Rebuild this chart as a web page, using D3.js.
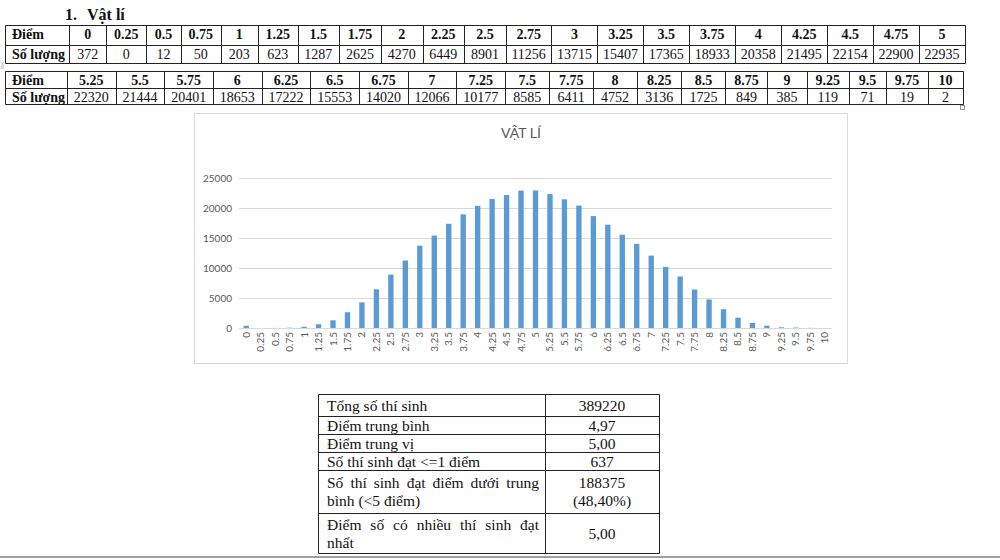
<!DOCTYPE html>
<html>
<head>
<meta charset="utf-8">
<script src="https://cdn.jsdelivr.net/npm/d3@7/dist/d3.min.js"></script>
<style>
  body { margin: 0; background: #fff; }
  svg { display: block; }
  .tbl text { font-family: "Liberation Serif", "Times New Roman", serif; fill: #111; }
  .chart text { font-family: Lato, "Open Sans", sans-serif; fill: #595959; }
</style>
</head>
<body>
<div id="container"></div>
<script>
// pho diem mon Vat li
const sectionTitle = "1.";
const sectionName = "Vật lí";
const rowLabels = ["Điểm", "Số lượng"];

const scores = ["0", "0.25", "0.5", "0.75", "1", "1.25", "1.5", "1.75", "2", "2.25", "2.5",
  "2.75", "3", "3.25", "3.5", "3.75", "4", "4.25", "4.5", "4.75", "5",
  "5.25", "5.5", "5.75", "6", "6.25", "6.5", "6.75", "7", "7.25", "7.5",
  "7.75", "8", "8.25", "8.5", "8.75", "9", "9.25", "9.5", "9.75", "10"];

const counts = [372, 0, 12, 50, 203, 623, 1287, 2625, 4270, 6449, 8901,
  11256, 13715, 15407, 17365, 18933, 20358, 21495, 22154, 22900, 22935,
  22320, 21444, 20401, 18653, 17222, 15553, 14020, 12066, 10177, 8585,
  6411, 4752, 3136, 1725, 849, 385, 119, 71, 19, 2];

const yTicks = [0, 5000, 10000, 15000, 20000, 25000];
const chartTitle = "VẬT LÍ";

const summaryLabels = ["Tổng số thí sinh", "Điểm trung bình", "Điểm trung vị",
  "Số thí sinh đạt <=1 điểm", "Số thí sinh đạt điểm dưới trung bình (<5 điểm)",
  "Điểm số có nhiều thí sinh đạt nhất"];
const summaryValues = ["389220", "4,97", "5,00", "637", "188375 (48,40%)", "5,00"];


const svg = d3.select("#container").append("svg")
  .attr("width", 1000)
  .attr("height", 560);

// do rong chu de chia cot
const measureG = svg.append("g").attr("class", "tbl").attr("opacity", 0);
const meas = measureG.append("text");
function textW(str, size, weight) {
  meas.attr("font-size", size).attr("font-weight", weight).text(str);
  return meas.node().getComputedTextLength();
}

const px = v => Math.round(v) + 0.5;

// tieu de
const head = svg.append("g").attr("class", "tbl");
head.append("text").attr("x", 65).attr("y", 20)
  .attr("font-size", 16).attr("font-weight", "bold").text(sectionTitle);
head.append("text").attr("x", 87).attr("y", 20)
  .attr("font-size", 16).attr("font-weight", "bold").text(sectionName);

function scoreTable(from, to, x0, x1, y0, hHead, hVal, labelW) {
  const sc = scores.slice(from, to);
  const ct = counts.slice(from, to);
  const fs = 14;

  const wts = sc.map((s, i) => Math.max(textW(s, fs, "bold"), textW(String(ct[i]), fs, "normal")) + 40);
  const k = (x1 - x0 - labelW) / d3.sum(wts);
  const xs = [x0, x0 + labelW];
  wts.forEach(w => xs.push(xs[xs.length - 1] + w * k));

  const g = svg.append("g").attr("class", "tbl");
  const ys = [y0, y0 + hHead, y0 + hHead + hVal];

  g.selectAll(".hl").data(ys).enter().append("line")
    .attr("x1", px(x0)).attr("x2", px(x1))
    .attr("y1", d => px(d)).attr("y2", d => px(d))
    .attr("stroke", "#222");
  g.selectAll(".vl").data(xs).enter().append("line")
    .attr("x1", d => px(d)).attr("x2", d => px(d))
    .attr("y1", px(y0)).attr("y2", px(ys[2]))
    .attr("stroke", "#222");

  g.selectAll(".lab").data(rowLabels).enter().append("text")
    .attr("x", x0 + 7)
    .attr("y", (d, i) => i === 0 ? y0 + 14 : ys[1] + 13.5)
    .attr("font-size", fs).attr("font-weight", "bold")
    .text(d => d);

  g.selectAll(".sc").data(sc).enter().append("text")
    .attr("x", (d, i) => (xs[i + 1] + xs[i + 2]) / 2)
    .attr("y", y0 + 14)
    .attr("text-anchor", "middle")
    .attr("font-size", fs).attr("font-weight", "bold")
    .text(d => d);

  g.selectAll(".ct").data(ct).enter().append("text")
    .attr("x", (d, i) => (xs[i + 1] + xs[i + 2]) / 2)
    .attr("y", ys[1] + 13.5)
    .attr("text-anchor", "middle")
    .attr("font-size", fs)
    .text(d => d);
}

scoreTable(0, 21, 5, 965, 25, 20, 18, 64);
scoreTable(21, 41, 5, 963, 71, 17, 16, 62);

// o vuong nho cua bang (Word)
svg.append("rect").attr("x", 960.5).attr("y", 105.5).attr("width", 4).attr("height", 4)
  .attr("fill", "#fff").attr("stroke", "#999");
svg.append("rect").attr("x", 1).attr("y", 62).attr("width", 3).attr("height", 7)
  .attr("fill", "#ddd");


// bieu do cot
const chart = svg.append("g").attr("class", "chart");
const plotLeft = 239, plotRight = 832, plotTop = 178, plotBottom = 328;

chart.append("rect")
  .attr("x", 194.5).attr("y", 113.5)
  .attr("width", 653).attr("height", 250)
  .attr("fill", "#fff").attr("stroke", "#d9d9d9");

chart.append("text")
  .attr("x", 521).attr("y", 138)
  .attr("text-anchor", "middle")
  .attr("font-size", 14)
  .text(chartTitle);

const xScale = d3.scaleBand()
  .domain(scores)
  .range([plotLeft, plotRight])
  .paddingInner(0.63)
  .paddingOuter(0.315);

const yScale = d3.scaleLinear()
  .domain([0, 25000])
  .range([plotBottom, plotTop]);

const yAxis = chart.append("g")
  .attr("transform", `translate(${plotLeft}, 0)`)
  .call(d3.axisLeft(yScale)
    .tickValues(yTicks)
    .tickSize(-(plotRight - plotLeft))
    .tickPadding(7)
    .tickFormat(d3.format("d")));
yAxis.select(".domain").remove();
yAxis.selectAll("line").attr("stroke", "#d9d9d9");
yAxis.attr("font-family", null).attr("font-size", 10);
yAxis.selectAll("text").attr("fill", "#595959");

chart.selectAll(".bar")
  .data(scores)
  .enter()
  .append("rect")
  .attr("class", "bar")
  .attr("x", d => xScale(d))
  .attr("y", (d, i) => yScale(counts[i]))
  .attr("width", xScale.bandwidth())
  .attr("height", (d, i) => plotBottom - yScale(counts[i]))
  .attr("fill", "#5b9bd5");

const xAxis = chart.append("g")
  .attr("transform", `translate(0, ${plotBottom})`)
  .call(d3.axisBottom(xScale).tickSize(0).tickPadding(0));
xAxis.select(".domain").remove();
xAxis.attr("font-family", null).attr("font-size", 10);
xAxis.selectAll("text")
  .attr("fill", "#595959")
  .attr("text-anchor", "end")
  .attr("x", -4)
  .attr("y", 0)
  .attr("dy", "0.35em")
  .attr("transform", "rotate(-90)");


// bang tong hop
const sx0 = 318, sx1 = 545, sx2 = 659, sy0 = 394;
const rowHeights = [22, 18, 18, 18, 43, 40];
const sfs = 15.5;
const lineGap = 18;

function wrap(str, maxW) {
  const words = str.split(" ");
  const lines = [];
  let cur = [];
  words.forEach(w => {
    const test = cur.concat([w]).join(" ");
    if (cur.length && textW(test, sfs, "normal") > maxW) {
      lines.push(cur);
      cur = [w];
    } else {
      cur.push(w);
    }
  });
  if (cur.length) lines.push(cur);
  return lines;
}

const summ = svg.append("g").attr("class", "tbl");
let ry = sy0;
const rowTops = [];
rowHeights.forEach(h => { rowTops.push(ry); ry += h; });
rowTops.push(ry);

summ.selectAll(".hl").data(rowTops).enter().append("line")
  .attr("x1", px(sx0)).attr("x2", px(sx2))
  .attr("y1", d => px(d)).attr("y2", d => px(d))
  .attr("stroke", "#222");
summ.selectAll(".vl").data([sx0, sx1, sx2]).enter().append("line")
  .attr("x1", d => px(d)).attr("x2", d => px(d))
  .attr("y1", px(sy0)).attr("y2", px(ry))
  .attr("stroke", "#222");

summaryLabels.forEach((lab, r) => {
  const mid = rowTops[r] + rowHeights[r] / 2;

  // cot trai: can deu hai ben
  const lines = wrap(lab, 205);
  const fullW = 212, lx = 327;
  lines.forEach((words, li) => {
    const by = mid + 5.5 + (li - (lines.length - 1) / 2) * lineGap;
    if (li < lines.length - 1 && words.length > 1) {
      const ws = words.map(w => textW(w, sfs, "normal"));
      const gap = (fullW - d3.sum(ws)) / (words.length - 1);
      let cx = lx;
      words.forEach((w, wi) => {
        summ.append("text").attr("x", cx).attr("y", by)
          .attr("font-size", sfs).text(w);
        cx += ws[wi] + gap;
      });
    } else {
      summ.append("text").attr("x", lx).attr("y", by)
        .attr("font-size", sfs).text(words.join(" "));
    }
  });

  // cot phai: can giua
  const vlines = wrap(summaryValues[r], 90);
  vlines.forEach((words, li) => {
    summ.append("text")
      .attr("x", (sx1 + sx2) / 2)
      .attr("y", mid + 5.5 + (li - (vlines.length - 1) / 2) * lineGap)
      .attr("text-anchor", "middle")
      .attr("font-size", sfs)
      .text(words.join(" "));
  });
});

// duong ngat trang
svg.append("line")
  .attr("x1", 0).attr("x2", 1000)
  .attr("y1", 557).attr("y2", 557)
  .attr("stroke", "#a0a0a0").attr("stroke-width", 2);

measureG.remove();
</script>
</body>
</html>
